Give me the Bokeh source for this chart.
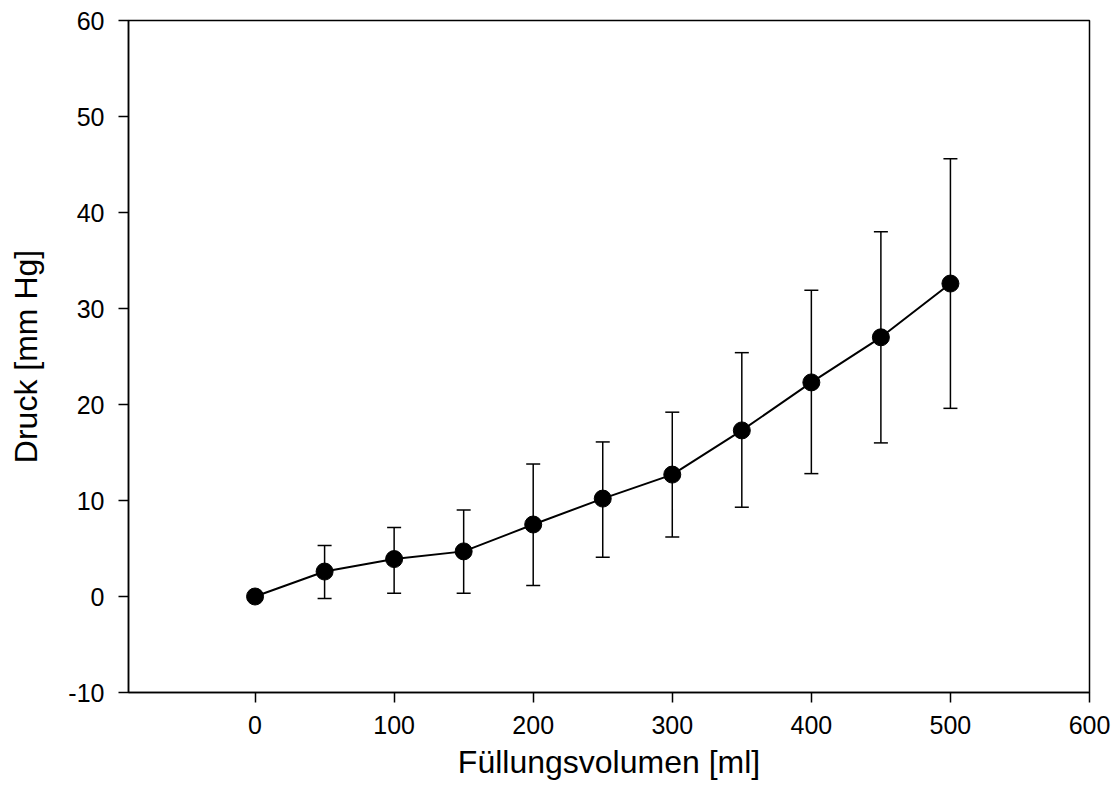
from bokeh.plotting import figure
from bokeh.models import ColumnDataSource, Whisker, TeeHead, Range1d, FixedTicker
from bokeh.embed import file_html
from bokeh.resources import INLINE

# Data
volume_ml = [0, 50, 100, 150, 200, 250, 300, 350, 400, 450, 500]
pressure_mean = [0.0, 2.6, 3.9, 4.7, 7.5, 10.2, 12.7, 17.3, 22.3, 27.0, 32.6]
pressure_upper = [0.0, 5.3, 7.2, 9.0, 13.8, 16.1, 19.2, 25.4, 31.9, 38.0, 45.6]
pressure_lower = [0.0, -0.2, 0.35, 0.35, 1.15, 4.1, 6.2, 9.3, 12.8, 16.0, 19.6]
x_ticks = [0, 100, 200, 300, 400, 500, 600]
y_ticks = [-10, 0, 10, 20, 30, 40, 50, 60]

FONT = "Liberation Sans"

src = ColumnDataSource(dict(x=volume_ml, y=pressure_mean,
                            upper=pressure_upper, lower=pressure_lower))

p = figure(width=1119, height=810, output_backend="svg", toolbar_location=None,
           x_range=Range1d(-91, 600), y_range=Range1d(-10, 60),
           min_border_left=128, min_border_right=30,
           min_border_top=20, min_border_bottom=118)

p.xgrid.visible = False
p.ygrid.visible = False
p.outline_line_color = "black"
p.outline_line_width = 1.5
p.outline_line_alpha = 1.0
p.background_fill_color = "white"
p.border_fill_color = "white"

whisk = Whisker(source=src, base="x", upper="upper", lower="lower",
                line_color="black", line_width=1.5,
                upper_head=TeeHead(size=14, line_color="black", line_width=1.5),
                lower_head=TeeHead(size=14, line_color="black", line_width=1.5))
p.add_layout(whisk)

p.line("x", "y", source=src, line_color="black", line_width=2)
p.scatter("x", "y", source=src, size=17, fill_color="black", line_color="black")

for ax in (p.xaxis, p.yaxis):
    ax.axis_line_color = "black"
    ax.axis_line_width = 1.5
    ax.major_tick_line_color = "black"
    ax.major_tick_line_width = 1.5
    ax.major_tick_out = 10
    ax.major_tick_in = 0
    ax.minor_tick_line_color = None
    ax.major_label_text_font = FONT
    ax.major_label_text_font_size = "25px"
    ax.major_label_text_color = "black"
    ax.axis_label_text_font = FONT
    ax.axis_label_text_font_size = "32px"
    ax.axis_label_text_font_style = "normal"
    ax.axis_label_text_color = "black"

p.xaxis.ticker = FixedTicker(ticks=x_ticks)
p.yaxis.ticker = FixedTicker(ticks=y_ticks)
p.yaxis.major_label_overrides = {t: str(t) for t in y_ticks}
p.xaxis.major_label_overrides = {t: str(t) for t in x_ticks}
p.xaxis.axis_label = "Füllungsvolumen [ml]"
p.yaxis.axis_label = "Druck [mm Hg]"
p.xaxis.major_label_standoff = 13
p.yaxis.major_label_standoff = 14
p.xaxis.axis_label_standoff = 7
p.yaxis.axis_label_standoff = 21

open("out.html", "w").write(file_html(p, INLINE))
